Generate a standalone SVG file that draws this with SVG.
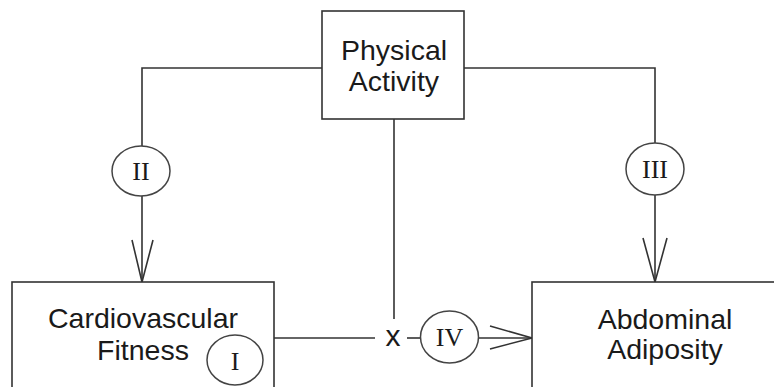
<svg xmlns="http://www.w3.org/2000/svg" width="774" height="387" viewBox="0 0 774 387">
<style>
.box{fill:#fff;stroke:#333;stroke-width:1.6}
.ln{fill:none;stroke:#333;stroke-width:1.6}
.el{fill:#fff;stroke:#444;stroke-width:1.5}
.t{font-family:"Liberation Sans",Arial,sans-serif;font-size:28.5px;fill:#1a1a1a;text-anchor:middle}
.x{font-family:"Liberation Sans",Arial,sans-serif;font-size:30px;fill:#1a1a1a;text-anchor:middle}
.r{font-family:"Liberation Serif","Times New Roman",serif;font-size:26px;fill:#1a1a1a;text-anchor:middle}
</style>
<rect width="774" height="387" fill="#fff"/>
<g id="connectors">
<polyline class="ln" points="322,68 142,68 142,146"/>
<line class="ln" x1="142" y1="196" x2="142" y2="282"/>
<polyline class="ln" points="132,240 142,282 153,240"/>
<polyline class="ln" points="464,68 655,68 655,143"/>
<line class="ln" x1="655" y1="195" x2="655" y2="282"/>
<polyline class="ln" points="643,238 655,282 667,238"/>
<line class="ln" x1="394" y1="119" x2="394" y2="319"/>
<line class="ln" x1="274" y1="338" x2="375" y2="338"/>
<line class="ln" x1="407" y1="338" x2="421" y2="338"/>
<line class="ln" x1="478" y1="338" x2="532" y2="338"/>
<polyline class="ln" points="490,326 532,338 490,349"/>
<text class="x" x="393" y="346">x</text>
</g>
<g id="physical-activity">
<rect class="box" x="322" y="11" width="142" height="108"/>
<text class="t" x="394" y="60">Physical</text>
<text class="t" x="394" y="91">Activity</text>
</g>
<g id="cardiovascular-fitness">
<rect class="box" x="12" y="282" width="262" height="130"/>
<text class="t" x="143" y="328">Cardiovascular</text>
<text class="t" x="143" y="360">Fitness</text>
</g>
<g id="abdominal-adiposity">
<rect class="box" x="532" y="282" width="270" height="130"/>
<text class="t" x="665" y="329">Abdominal</text>
<text class="t" x="665" y="359">Adiposity</text>
</g>
<g id="label-I">
<ellipse class="el" cx="235" cy="360" rx="28" ry="25"/>
<text class="r" x="235" y="370">I</text>
</g>
<g id="label-II">
<ellipse class="el" cx="141" cy="171" rx="29" ry="25"/>
<text class="r" x="141" y="180">II</text>
</g>
<g id="label-III">
<ellipse class="el" cx="655" cy="169" rx="29" ry="26"/>
<text class="r" x="655" y="178">III</text>
</g>
<g id="label-IV">
<ellipse class="el" cx="449.5" cy="337" rx="29" ry="26"/>
<text class="r" x="449.5" y="346">IV</text>
</g>
</svg>
